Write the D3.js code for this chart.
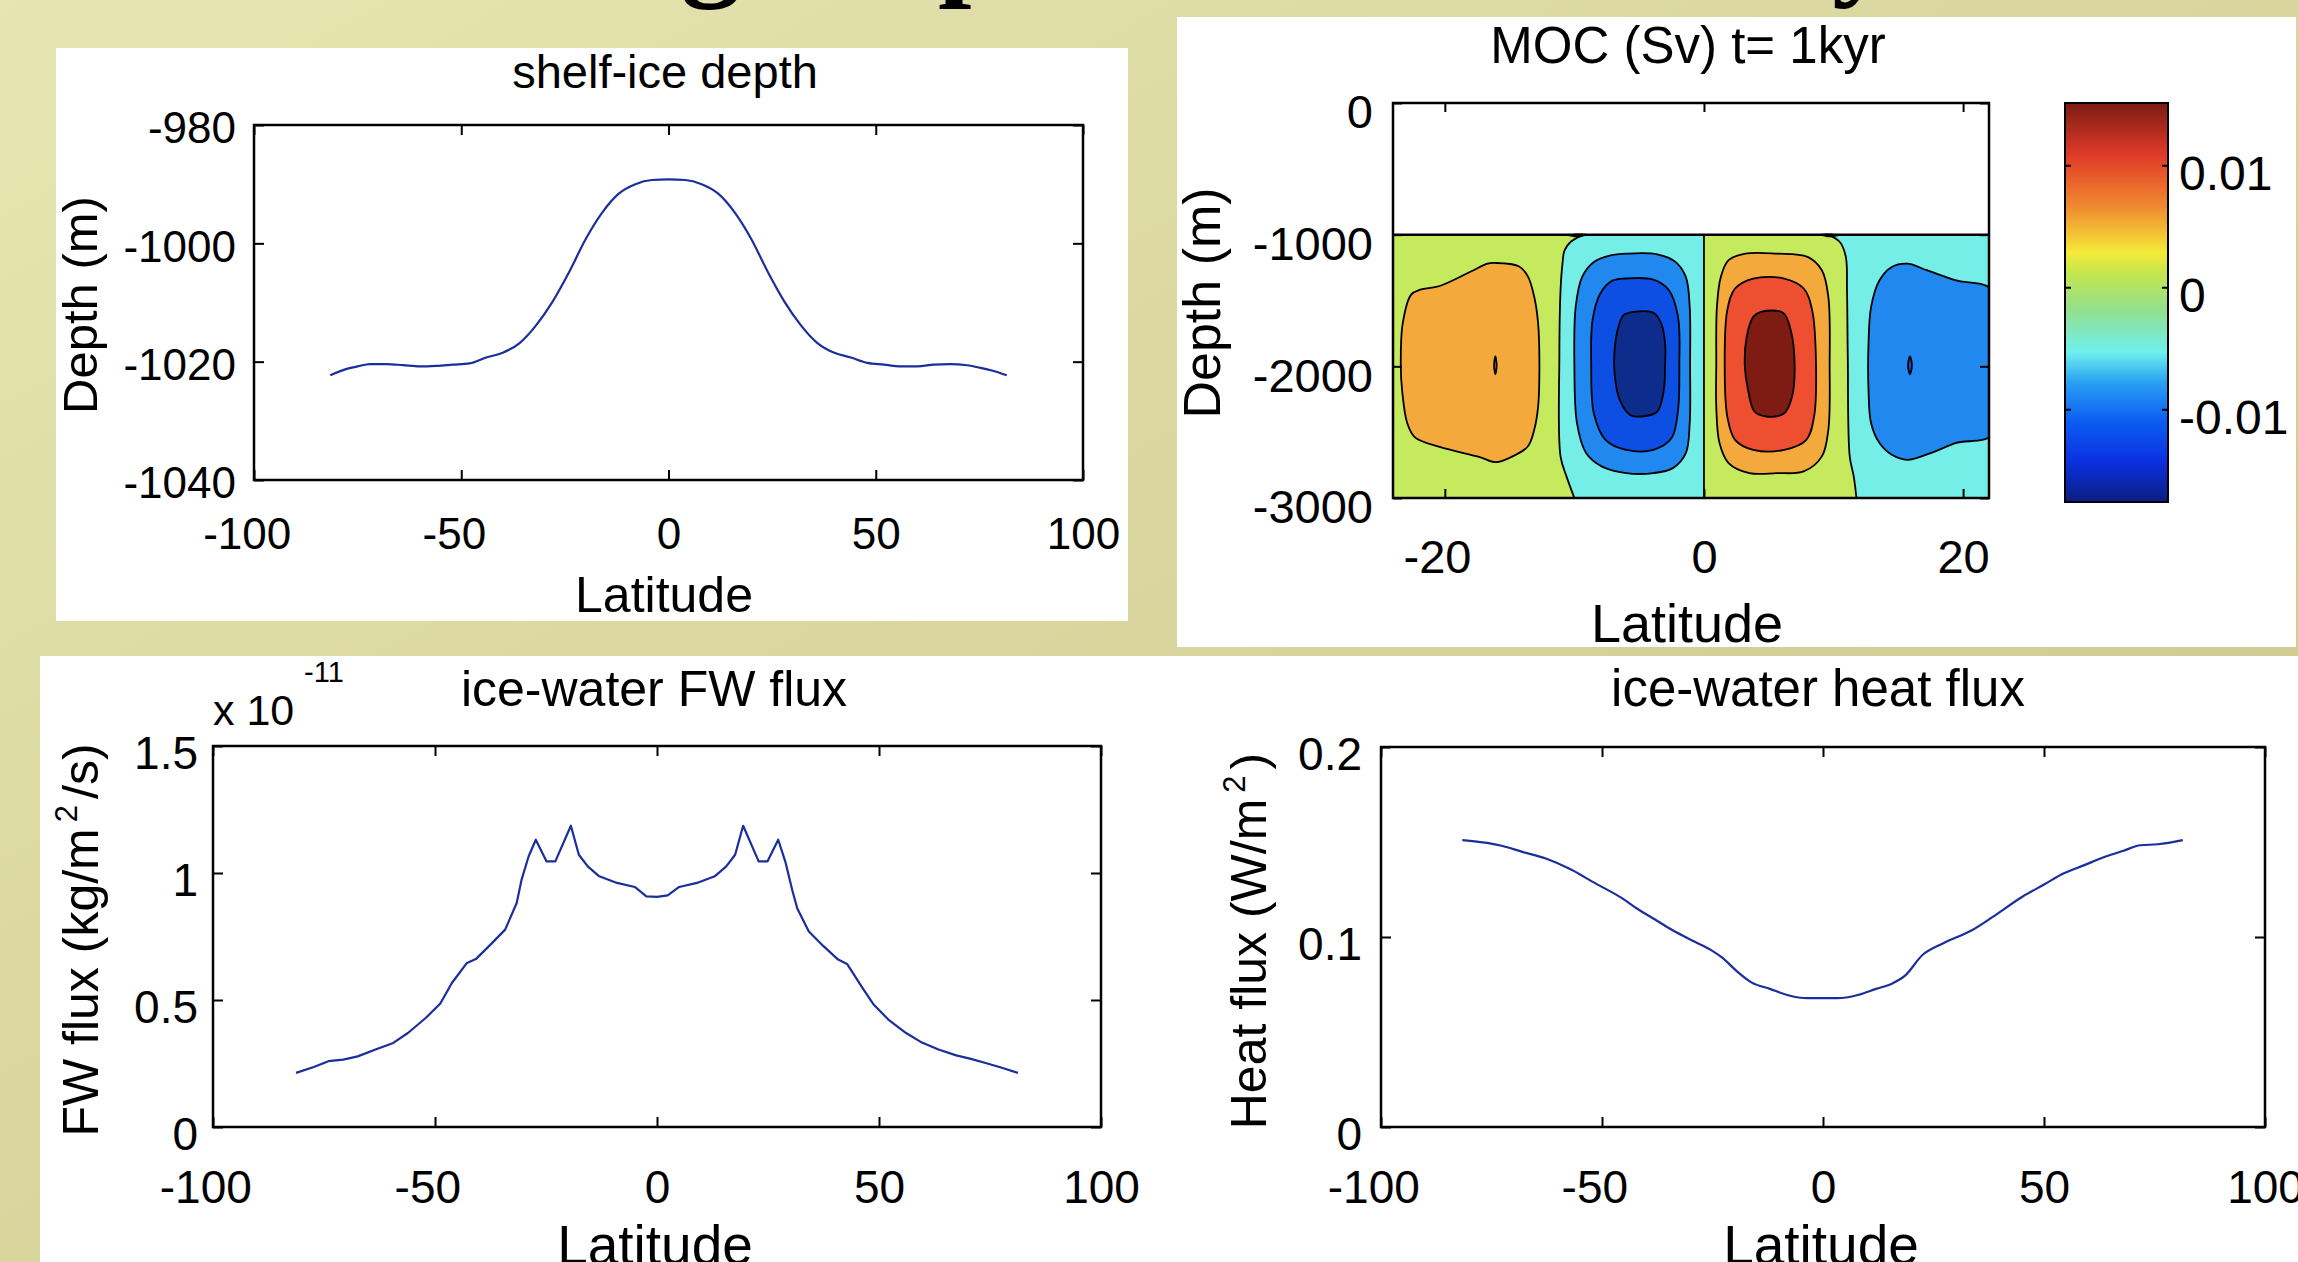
<!DOCTYPE html>
<html><head><meta charset="utf-8">
<script src="https://cdn.jsdelivr.net/npm/d3@7/dist/d3.min.js"></script>
<style>
html,body{margin:0;padding:0;background:#d9d69e;overflow:hidden}
svg{display:block}
</style></head>
<body>
<svg id="chart" width="2298" height="1262"></svg>
<script>
// ---------------- DATA ----------------
// Panel 1: shelf-ice depth (m) vs latitude
const shelfLat = [-81.6,-78,-75,-72,-68,-64,-60,-56,-52,-48,-44,-40,-36,-32,-28,-24,-20,-16,-12,-8,-4,0,4,8,12,16,20,24,28,32,36,40,44,48,52,56,60,64,68,72,75,78,81.6];
const shelfDepth = [-1022.3,-1021.3,-1020.8,-1020.4,-1020.4,-1020.6,-1020.8,-1020.7,-1020.5,-1020.3,-1019.3,-1018.5,-1016.9,-1013.9,-1009.9,-1004.9,-999.3,-994.8,-991.6,-990.0,-989.3,-989.2,-989.3,-990.0,-991.6,-994.8,-999.3,-1004.9,-1009.9,-1013.9,-1016.9,-1018.5,-1019.3,-1020.2,-1020.5,-1020.8,-1020.8,-1020.5,-1020.4,-1020.6,-1021.0,-1021.5,-1022.3];
const shelfXTicks = [-100,-50,0,50,100];
const shelfYTicks = [-1040,-1020,-1000,-980];

// Panel 3: ice-water FW flux (x 1e-11 kg/m2/s)
const fwLat = [-81.3,-77.3,-74.0,-70.7,-67.4,-63.4,-59.4,-56.1,-52.1,-48.8,-46.2,-42.8,-40.8,-37.5,-34.2,-31.6,-30.5,-28.9,-27.3,-24.9,-22.9,-19.4,-17.6,-15.6,-13.0,-9.0,-5.0,-2.4,0,2.4,5.0,9.0,13.0,15.6,17.6,19.4,22.9,24.9,27.3,28.9,30.5,31.6,34.2,37.5,40.8,42.8,46.2,48.8,52.1,56.1,59.4,63.4,67.4,70.7,74.0,77.3,81.3];
const fwFlux = [0.213,0.236,0.259,0.265,0.278,0.305,0.331,0.370,0.429,0.486,0.567,0.646,0.661,0.718,0.777,0.882,0.974,1.066,1.131,1.046,1.046,1.186,1.072,1.026,0.987,0.961,0.945,0.908,0.906,0.912,0.945,0.961,0.987,1.026,1.072,1.186,1.046,1.046,1.131,1.045,0.930,0.860,0.770,0.712,0.659,0.642,0.550,0.482,0.423,0.370,0.335,0.305,0.282,0.268,0.252,0.235,0.213];
const fwXTicks = [-100,-50,0,50,100];
const fwYTicks = [0,0.5,1,1.5];

// Panel 4: ice-water heat flux (W/m2)
const heatLat = [-81.6,-76,-72.7,-68,-62.7,-57,-52.1,-45.4,-42.1,-38,-34.1,-29,-25.4,-22.8,-19.4,-16.1,-12,-8.1,-3.5,0,3.2,7.9,12,15.8,18.5,22.5,27.2,33.8,38.5,45.1,50,54.5,59,63.8,68,71.8,75.8,81.4];
const heatFlux = [0.151,0.1495,0.148,0.1448,0.1413,0.1355,0.129,0.1203,0.115,0.1092,0.1037,0.0975,0.0932,0.0891,0.0818,0.076,0.0727,0.0695,0.0678,0.0678,0.0678,0.0695,0.0727,0.0757,0.0795,0.0905,0.0967,0.1037,0.1107,0.1212,0.1276,0.1335,0.1377,0.1422,0.1454,0.1483,0.1488,0.151];
const heatXTicks = [-100,-50,0,50,100];
const heatYTicks = [0,0.1,0.2];

// Panel 2: MOC (Sv), contour lines as [latitude, depth m]
const mocLatDomain = [-24, 22];
const mocDepthDomain = [-3000, 0];
const mocIceDepth = -1000;
const mocXTicks = [-20,0,20];
const mocYTicks = [-3000,-2000,-1000,0];
const cbDomain = [-0.0176, 0.0151];
const cbTicks = [-0.01,0,0.01];
// zero contours
const mocZeroWest = [[-9.3,-1000],[-10.3,-1056],[-10.76,-1119],[-10.92,-1220],[-11.07,-1422],[-11.16,-1927],[-11.07,-2684],[-10.61,-2836],[-10.0,-3000]];
const mocZeroEast = [[9.6,-1000],[10.49,-1056],[10.95,-1169],[11.04,-1422],[11.1,-1927],[11.25,-2684],[11.56,-2836],[11.77,-3000]];
const mocZeroEquator = [[0,-1000],[0,-3000]];
// closed contours
const mocWestPos1 = [[-16.1,-1215],[-14.3,-1240],[-13.6,-1315],[-13.1,-1472],[-12.8,-1674],[-12.7,-1992],[-12.8,-2306],[-13.1,-2482],[-13.6,-2609],[-14.9,-2690],[-16.1,-2728],[-17.3,-2690],[-20.4,-2612],[-22.3,-2540],[-22.9,-2432],[-23.3,-2179],[-23.4,-1992],[-23.25,-1674],[-22.6,-1455],[-21.9,-1418],[-20.4,-1390],[-17.95,-1278],[-16.7,-1220]];
const mocWestPos2 = [[-16.1,-1925],[-16.0,-1992],[-16.1,-2060],[-16.2,-1992]];
const mocSouthNeg1 = [[-6.0,-1144],[-3.6,-1149],[-2.2,-1207],[-1.4,-1321],[-1.1,-1548],[-1.07,-1992],[-1.1,-2432],[-1.4,-2659],[-2.4,-2773],[-3.9,-2811],[-6.0,-2811],[-7.9,-2760],[-9.1,-2659],[-9.8,-2432],[-10.0,-1992],[-9.9,-1548],[-9.4,-1321],[-8.5,-1207],[-7.2,-1157]];
const mocSouthNeg2 = [[-6.0,-1333],[-3.9,-1341],[-2.7,-1422],[-2.0,-1624],[-1.9,-1992],[-2.0,-2331],[-2.5,-2545],[-3.9,-2634],[-6.0,-2634],[-7.6,-2558],[-8.5,-2356],[-8.7,-1992],[-8.6,-1649],[-8.0,-1447],[-7.1,-1351]];
const mocSouthNeg3 = [[-5.4,-1586],[-3.9,-1593],[-3.3,-1674],[-3.0,-1826],[-3.0,-1992],[-3.1,-2179],[-3.6,-2343],[-4.8,-2381],[-5.7,-2369],[-6.5,-2255],[-6.9,-2053],[-6.9,-1876],[-6.6,-1699],[-6.2,-1611]];
const mocNorthPos1 = [[3.2,-1144],[5.6,-1144],[8.0,-1169],[9.1,-1270],[9.6,-1472],[9.7,-1992],[9.6,-2482],[9.1,-2684],[7.7,-2798],[5.6,-2811],[3.5,-2811],[1.9,-2735],[1.2,-2583],[0.95,-2306],[0.95,-1992],[1.0,-1548],[1.3,-1321],[1.9,-1194]];
const mocNorthPos2 = [[3.8,-1333],[6.2,-1333],[7.7,-1409],[8.35,-1573],[8.65,-1992],[8.5,-2381],[7.9,-2558],[6.2,-2634],[3.8,-2634],[2.4,-2558],[1.8,-2381],[1.6,-1992],[1.8,-1573],[2.4,-1409]];
const mocNorthPos3 = [[4.4,-1586],[6.1,-1593],[6.7,-1725],[7.0,-1992],[6.8,-2230],[6.2,-2356],[4.8,-2381],[3.9,-2343],[3.4,-2179],[3.15,-1992],[3.3,-1775],[3.8,-1624]];
const mocEastNeg1 = [[15.7,-1220],[17.2,-1270],[19.4,-1346],[22.4,-1434],[22.4,-2508],[19.4,-2583],[17.5,-2659],[15.7,-2710],[14.5,-2672],[13.55,-2583],[12.9,-2432],[12.7,-2179],[12.7,-1826],[12.9,-1548],[13.55,-1346],[14.5,-1245]];
const mocEastNeg2 = [[15.9,-1925],[16.05,-1992],[15.9,-2060],[15.75,-1992]];
const mocIceNodes = [
  [[-10.6,-1004],[-9.8,-991],[-8.9,-998],[-9.7,-1020]],
  [[8.9,-998],[9.7,-991],[10.5,-1004],[9.7,-1020]]
];
const mocContourLevels = [
  [mocWestPos1, 0.004], [mocWestPos2, 0.008],
  [mocSouthNeg1, -0.004], [mocSouthNeg2, -0.008], [mocSouthNeg3, -0.012],
  [mocNorthPos1, 0.004], [mocNorthPos2, 0.008], [mocNorthPos3, 0.012],
  [mocEastNeg1, -0.004], [mocEastNeg2, -0.008]
];

// ---------------- STYLE ----------------
const FONT = "'Liberation Sans', Arial, Helvetica, sans-serif";
const LINE = "#1b2e9c";
const bandColor = new Map([[-0.012,"#0d2c8c"],[-0.008,"#0c4fe2"],[-0.004,"#2088ee"],[0.004,"#f4a93c"],[0.008,"#ee4f30"],[0.012,"#7e1b12"]]);
const bandNegZero = "#74eee6", bandPosZero = "#c6ea5e";
const jetStops = [[0,"#0b1d80"],[0.1,"#0a30e0"],[0.2,"#0b5cf2"],[0.3,"#2aa0f2"],[0.375,"#6ef0f0"],[0.48,"#92e08e"],[0.57,"#c2e650"],[0.625,"#f4ea38"],[0.74,"#f08a30"],[0.87,"#e03a28"],[1,"#7a1c14"]];

const svg = d3.select("#chart");
const defs = svg.append("defs");

// slide background
const bg = defs.append("linearGradient").attr("id","bg").attr("x1",0).attr("y1",0).attr("x2",1).attr("y2",1);
bg.append("stop").attr("offset",0).attr("stop-color","#e7e5b1");
bg.append("stop").attr("offset",1).attr("stop-color","#c8c489");
svg.append("rect").attr("width",2298).attr("height",1262).attr("fill","url(#bg)");

// slide title fragments (only descenders visible, as in the slide)
[["g",711,"middle"],["p",938,"start"],["y",1832,"start"]].forEach(([c,x,a]) => {
  svg.append("text").attr("x",x).attr("y",-17).attr("font-family","'Liberation Serif', 'Times New Roman', serif")
    .attr("font-size",120).attr("font-weight","bold").attr("text-anchor",a).attr("fill","#000").text(c);
});

// white figure backgrounds
svg.append("rect").attr("x",56).attr("y",48).attr("width",1072).attr("height",573).attr("fill","#fff");
svg.append("rect").attr("x",1177).attr("y",17).attr("width",1119).attr("height",630).attr("fill","#fff");
svg.append("rect").attr("x",40).attr("y",656).attr("width",2258).attr("height",606).attr("fill","#fff");

function txt(x, y, s, size, anchor, rot) {
  const t = svg.append("text").attr("x",x).attr("y",y).attr("font-family",FONT).attr("font-size",size)
    .attr("fill","#000").attr("text-anchor",anchor || "middle").text(s);
  if (rot) t.attr("transform",`rotate(${rot},${x},${y})`);
  return t;
}
function supLabel(x, y, pre, sup, post, size) {
  const t = svg.append("text").attr("x",x).attr("y",y).attr("font-family",FONT).attr("font-size",size)
    .attr("fill","#000").attr("text-anchor","middle").attr("transform",`rotate(-90,${x},${y})`);
  t.append("tspan").text(pre);
  t.append("tspan").attr("font-size",size*0.62).attr("dy",-size*0.42).attr("dx",size*0.12).text(sup);
  t.append("tspan").attr("dy",size*0.42).attr("dx",size*0.12).text(post);
}

function drawFrame(xs, ys, xt, yt, o) {
  const [L, R] = xs.range(), [B, T] = ys.range();
  const g = svg.append("g");
  const fmt = d => String(d);
  const bottom = g.append("g").attr("transform",`translate(0,${B})`)
    .call(d3.axisBottom(xs).tickValues(xt).tickSize(-o.tick).tickPadding(o.xPad).tickFormat(fmt));
  const top = g.append("g").attr("transform",`translate(0,${T})`)
    .call(d3.axisTop(xs).tickValues(xt).tickSize(-o.tick).tickFormat(""));
  const left = g.append("g").attr("transform",`translate(${L},0)`)
    .call(d3.axisLeft(ys).tickValues(yt).tickSize(-o.tick).tickPadding(o.yPad).tickFormat(fmt));
  const right = g.append("g").attr("transform",`translate(${R},0)`)
    .call(d3.axisRight(ys).tickValues(yt).tickSize(-o.tick).tickFormat(""));
  [bottom, top, left, right].forEach(a => {
    a.select(".domain").remove();
    a.attr("font-family",FONT).attr("font-size",o.fs);
    a.selectAll(".tick line").attr("stroke","#000").attr("stroke-width",2);
    a.selectAll(".tick text").attr("fill","#000");
  });
  bottom.selectAll(".tick text").attr("dx", d => d < 0 ? "-0.167em" : null);
  left.selectAll(".tick text").attr("dy", 0.36*o.fs + o.yOff);
  g.append("rect").attr("x",L).attr("y",T).attr("width",R-L).attr("height",B-T)
    .attr("fill","none").attr("stroke","#000").attr("stroke-width",2.5);
}
function drawSeries(id, xs, ys, xa, ya, curve) {
  const [L, R] = xs.range(), [B, T] = ys.range();
  defs.append("clipPath").attr("id",id).append("rect").attr("x",L).attr("y",T).attr("width",R-L).attr("height",B-T);
  const pts = xa.map((v,i) => [v, ya[i]]);
  svg.append("path").datum(pts).attr("clip-path",`url(#${id})`).attr("fill","none")
    .attr("stroke",LINE).attr("stroke-width",2.2).attr("stroke-linejoin","round")
    .attr("d", d3.line().x(d => xs(d[0])).y(d => ys(d[1])).curve(curve));
}

// ---------- Panel 1: shelf-ice depth ----------
{
  const xs = d3.scaleLinear().domain([-100,100]).range([254,1083]);
  const ys = d3.scaleLinear().domain([-1040,-980]).range([480,125]);
  drawSeries("c1", xs, ys, shelfLat, shelfDepth, d3.curveMonotoneX);
  drawFrame(xs, ys, shelfXTicks, shelfYTicks, {fs:44, tick:10, xPad:38, yPad:18, yOff:2});
  txt(665, 88, "shelf-ice depth", 47);
  txt(664, 612, "Latitude", 50);
  txt(97, 305, "Depth (m)", 49, "middle", -90);
}

// ---------- Panel 2: MOC contour ----------
{
  const xs = d3.scaleLinear().domain(mocLatDomain).range([1393,1989]);
  const ys = d3.scaleLinear().domain(mocDepthDomain).range([498,103]);
  const x0 = xs(mocLatDomain[0]), x1 = xs(mocLatDomain[1]);
  const yTop = ys(mocIceDepth), yBot = ys(mocDepthDomain[0]);
  defs.append("clipPath").attr("id","mocClip").append("rect").attr("x",x0).attr("y",yTop).attr("width",x1-x0).attr("height",yBot-yTop);
  const g = svg.append("g").attr("clip-path","url(#mocClip)");
  g.append("rect").attr("x",x0).attr("y",yTop).attr("width",x1-x0).attr("height",yBot-yTop).attr("fill",bandPosZero);
  const open = d3.line().x(d => xs(d[0])).y(d => ys(d[1])).curve(d3.curveCatmullRom);
  const closed = d3.line().x(d => xs(d[0])).y(d => ys(d[1])).curve(d3.curveCatmullRomClosed);
  g.append("path").attr("fill",bandNegZero)
    .attr("d", open(mocZeroWest) + `L${xs(0)},${yBot}L${xs(0)},${yTop}Z`);
  g.append("path").attr("fill",bandNegZero)
    .attr("d", open(mocZeroEast) + `L${x1+5},${yBot}L${x1+5},${yTop}Z`);
  [mocZeroWest, mocZeroEast, mocZeroEquator].forEach(z => {
    g.append("path").attr("fill","none").attr("stroke","#000").attr("stroke-width",1.8).attr("d", open(z));
  });
  mocContourLevels.forEach(([pts, lev]) => {
    g.append("path").attr("fill", bandColor.get(lev)).attr("stroke","#000").attr("stroke-width",1.8)
      .attr("d", closed(pts));
  });
  svg.append("line").attr("x1",x0).attr("x2",x1).attr("y1",yTop).attr("y2",yTop).attr("stroke","#000").attr("stroke-width",2.5);
  mocIceNodes.forEach(n => svg.append("path").attr("fill","#000").attr("d", closed(n)));
  drawFrame(xs, ys, mocXTicks, mocYTicks, {fs:47, tick:9, xPad:42, yPad:20, yOff:8});
  txt(1688, 63, "MOC (Sv) t= 1kyr", 51);
  txt(1687, 642, "Latitude", 54);
  txt(1220, 303, "Depth (m)", 52, "middle", -90);

  // colorbar
  const cb = d3.scaleLinear().domain(cbDomain).range([502,103]);
  const jet = defs.append("linearGradient").attr("id","jet").attr("x1",0).attr("y1",1).attr("x2",0).attr("y2",0);
  jetStops.forEach(s => jet.append("stop").attr("offset",s[0]).attr("stop-color",s[1]));
  const cL = 2065, cR = 2168;
  svg.append("rect").attr("x",cL).attr("y",cb(cbDomain[1])).attr("width",cR-cL)
    .attr("height",cb(cbDomain[0])-cb(cbDomain[1])).attr("fill","url(#jet)").attr("stroke","#000").attr("stroke-width",2);
  const ra = svg.append("g").attr("transform",`translate(${cR},0)`)
    .call(d3.axisRight(cb).tickValues(cbTicks).tickSize(-6).tickPadding(11).tickFormat(d => String(d)));
  const la = svg.append("g").attr("transform",`translate(${cL},0)`)
    .call(d3.axisLeft(cb).tickValues(cbTicks).tickSize(-6).tickFormat(""));
  [ra, la].forEach(a => {
    a.select(".domain").remove();
    a.attr("font-family",FONT).attr("font-size",48);
    a.selectAll(".tick line").attr("stroke","#000").attr("stroke-width",2);
    a.selectAll(".tick text").attr("fill","#000").attr("dy", 0.36*48 + 7);
  });
}

// ---------- Panel 3: FW flux ----------
{
  const xs = d3.scaleLinear().domain([-100,100]).range([213,1101]);
  const ys = d3.scaleLinear().domain([0,1.5]).range([1127,746]);
  drawSeries("c3", xs, ys, fwLat, fwFlux, d3.curveLinear);
  drawFrame(xs, ys, fwXTicks, fwYTicks, {fs:46, tick:10, xPad:43, yPad:15, yOff:6});
  txt(654, 706, "ice-water FW flux", 50);
  txt(655, 1264, "Latitude", 55);
  supLabel(98, 940, "FW flux (kg/m", "2", "/s)", 50);
  txt(213, 725, "x 10", 43, "start");
  txt(304, 682, "-11", 29, "start");
}

// ---------- Panel 4: heat flux ----------
{
  const xs = d3.scaleLinear().domain([-100,100]).range([1381,2265]);
  const ys = d3.scaleLinear().domain([0,0.2]).range([1127,747]);
  drawSeries("c4", xs, ys, heatLat, heatFlux, d3.curveMonotoneX);
  drawFrame(xs, ys, heatXTicks, heatYTicks, {fs:46, tick:10, xPad:43, yPad:19, yOff:6});
  txt(1818, 706, "ice-water heat flux", 51);
  txt(1821, 1264, "Latitude", 55);
  supLabel(1266, 941, "Heat flux (W/m", "2", ")", 50);
}
</script>
</body></html>
